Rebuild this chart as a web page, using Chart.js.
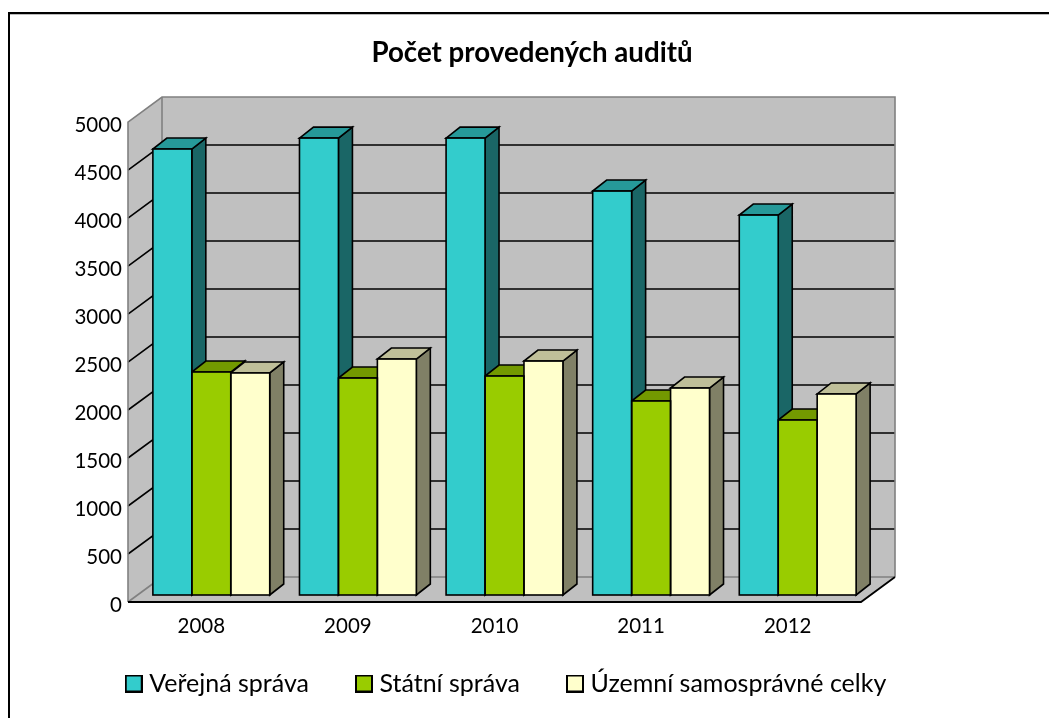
<!DOCTYPE html>
<html lang="cs">
<head>
<meta charset="utf-8">
<style>html,body{margin:0;padding:0;background:#fff;overflow:hidden}canvas{display:block}</style>
<script src="https://cdn.jsdelivr.net/npm/chart.js@4/dist/chart.umd.min.js"></script>
</head>
<body>
<canvas id="c" width="1049" height="718"></canvas>
<script>
const titleText = 'Počet provedených auditů';
const categories = ['2008', '2009', '2010', '2011', '2012'];
const seriesNames = ['Veřejná správa', 'Státní správa', 'Územní samosprávné celky'];
const verejnaSprava = [4646, 4760, 4760, 4208, 3958];
const statniSprava = [2323, 2260, 2281, 2021, 1823];
const uzemniCelky = [2313, 2458, 2437, 2156, 2094];
const frontColors = ['#33CCCC', '#99CC00', '#FFFFCC'];
const topColors = ['#269999', '#739900', '#BFBF99'];
const sideColors = ['#1A6666', '#4D6600', '#808066'];
const FONT = 'Lato, Carlito, sans-serif';

const WALL = {dx: 34, dy: 25};      // depth of floor/walls
const BAR_OFF = {dx: 10, dy: 7};    // bars sit inside the floor depth
const BAR_D = {dx: 14, dy: 11};     // depth of the bars

function poly(ctx, pts, fill, stroke, lw) {
  ctx.beginPath();
  pts.forEach((p, i) => i ? ctx.lineTo(p[0], p[1]) : ctx.moveTo(p[0], p[1]));
  ctx.closePath();
  if (fill) { ctx.fillStyle = fill; ctx.fill(); }
  if (stroke) { ctx.strokeStyle = stroke; ctx.lineWidth = lw; ctx.lineJoin = 'miter'; ctx.stroke(); }
}
function seg(ctx, pts, color, lw) {
  ctx.beginPath();
  pts.forEach((p, i) => i ? ctx.lineTo(p[0], p[1]) : ctx.moveTo(p[0], p[1]));
  ctx.strokeStyle = color; ctx.lineWidth = lw; ctx.stroke();
}
function swatch(color) {
  const cv = document.createElement('canvas');
  cv.width = 18; cv.height = 18;
  const x = cv.getContext('2d');
  x.fillStyle = '#000'; x.fillRect(0, 0, 18, 18);
  x.fillStyle = color; x.fillRect(2, 2, 14, 14);
  return cv;
}
const swatches = frontColors.map(swatch);

const box3d = {
  id: 'box3d',
  afterLayout(chart) {
    chart.titleBlock.left += 101.5;
    chart.titleBlock.right += 101.5;
    chart.legend.left += 78;
    chart.legend.right += 78;
    chart.legend.top -= 39;
  },
  beforeDraw(chart) {
    const c = chart.ctx;
    c.save();
    c.fillStyle = '#fff';
    c.fillRect(0, 0, chart.width, chart.height);
    c.fillStyle = '#bbb';
    c.fillRect(9, 14, chart.width - 9, 1);
    c.fillStyle = '#000';
    c.fillRect(8, 12, chart.width - 8, 2);
    c.fillRect(8, 12, 2, chart.height - 12);
    c.restore();
  },
  beforeDatasetsDraw(chart) {
    const c = chart.ctx, a = chart.chartArea, y = chart.scales.y;
    const L = a.left, R = a.right, T = a.top, B = a.bottom, dx = WALL.dx, dy = WALL.dy;
    const grey = '#808080', wall = '#C0C0C0';
    c.save();
    // left wall, back wall, floor
    poly(c, [[L, T], [L + dx, T - dy], [L + dx, B - dy], [L, B]], wall);
    poly(c, [[L + dx, T - dy], [R + dx, T - dy], [R + dx, B - dy], [L + dx, B - dy]], wall);
    poly(c, [[L, B], [R, B], [R + dx, B - dy], [L + dx, B - dy]], wall);
    // grid lines from the library's ticks
    y.ticks.forEach(t => {
      if (t.value === 0 || t.value === y.max) return;
      const p = y.getPixelForValue(t.value);
      seg(c, [[L, p], [L + dx, p - dy], [R + dx, p - dy]], '#000', 1.6);
    });
    // wall outlines
    seg(c, [[L, B], [L, T], [L + dx, T - dy], [R + dx, T - dy], [R + dx, B - dy]], grey, 1.6);
    seg(c, [[L + dx, T - dy], [L + dx, B - dy], [R + dx, B - dy]], grey, 1.6);
    seg(c, [[L, B], [L + dx, B - dy]], grey, 1.6);
    // floor front edges
    seg(c, [[L, B], [R, B], [R + dx, B - dy]], '#000', 1.8);

    // bars live on a plane shifted into the floor
    c.translate(BAR_OFF.dx, -BAR_OFF.dy);
    const d = BAR_D;
    categories.forEach((_, i) => {
      chart.data.datasets.forEach((ds, s) => {
        const el = chart.getDatasetMeta(s).data[i];
        const l = el.x - el.width / 2, r = el.x + el.width / 2, t = el.y, b = el.base;
        poly(c, [[r, t], [r + d.dx, t - d.dy], [r + d.dx, b - d.dy], [r, b]], sideColors[s], '#000', 1.6);
        poly(c, [[l, t], [r, t], [r + d.dx, t - d.dy], [l + d.dx, t - d.dy]], topColors[s], '#000', 1.6);
      });
    });
  },
  afterDatasetsDraw(chart) {
    const c = chart.ctx;
    chart.data.datasets.forEach((ds, s) => {
      chart.getDatasetMeta(s).data.forEach(el => {
        c.strokeStyle = '#000';
        c.lineWidth = 1.6;
        c.strokeRect(el.x - el.width / 2, el.y, el.width, el.base - el.y);
      });
    });
    c.restore();
  }
};

new Chart(document.getElementById('c'), {
  type: 'bar',
  data: {
    labels: categories,
    datasets: [verejnaSprava, statniSprava, uzemniCelky].map((v, s) => ({
      label: seriesNames[s],
      data: v,
      backgroundColor: frontColors[s],
      borderColor: '#000',
      borderWidth: 0,
      categoryPercentage: 0.797,
      barPercentage: 1,
      clip: false
    }))
  },
  options: {
    responsive: false,
    animation: false,
    events: [],
    layout: {padding: {left: 0, right: 188, top: 0, bottom: 0}},
    scales: {
      x: {
        grid: {display: false, drawTicks: false},
        border: {display: false},
        ticks: {font: {family: FONT, size: 20.5}, color: '#000', padding: 12, maxRotation: 0},
        afterFit(s) { s.height = 56; }
      },
      y: {
        min: 0, max: 5000,
        grid: {display: false, drawTicks: false},
        border: {display: false},
        ticks: {stepSize: 500, font: {family: FONT, size: 20.5}, color: '#000', padding: 6, labelOffset: 3,
                callback: v => String(v)},
        afterFit(s) { s.width = 128; }
      }
    },
    plugins: {
      title: {
        display: true,
        text: titleText,
        color: '#000',
        font: {family: FONT, size: 27.7, weight: 'bold'},
        padding: {top: 36, bottom: 52.8}
      },
      legend: {
        position: 'bottom',
        maxHeight: 60,
        labels: {
          color: '#000',
          font: {family: FONT, size: 25},
          usePointStyle: true, pointStyleWidth: 6, boxHeight: 18, padding: 52,
          generateLabels(chart) {
            return seriesNames.map((n, s) => ({
              text: n, pointStyle: swatches[s], fillStyle: frontColors[s], strokeStyle: '#000', lineWidth: 2,
              datasetIndex: s, fontColor: '#000', hidden: false
            }));
          }
        }
      },
      tooltip: {enabled: false}
    }
  },
  plugins: [box3d]
});
</script>
</body>
</html>
